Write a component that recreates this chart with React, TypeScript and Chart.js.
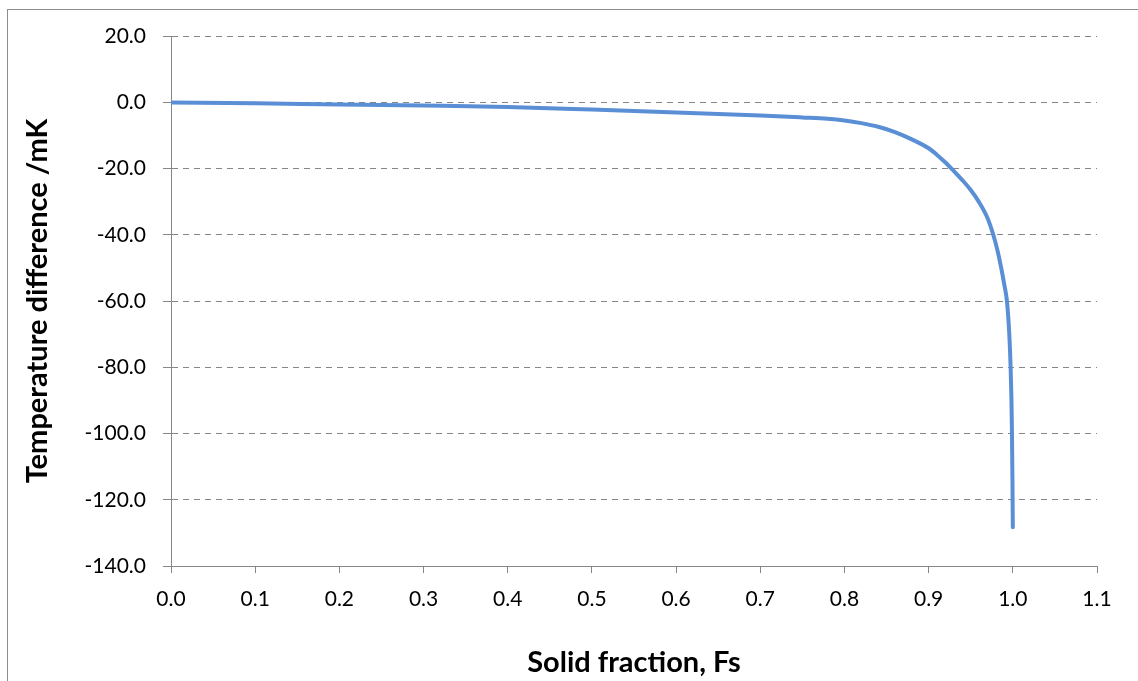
import React, { useEffect, useRef } from "react";
import { Chart, registerables } from "chart.js";

Chart.register(...registerables);

// Solid fraction (x) and temperature difference in mK (y)
const solidFraction = [
  0, 0.1, 0.2, 0.3, 0.4, 0.5, 0.6, 0.7, 0.75, 0.78, 0.8, 0.82, 0.84, 0.86,
  0.88, 0.9, 0.91, 0.92, 0.93, 0.94, 0.95, 0.9595, 0.97, 0.9768, 0.982,
  0.9862, 0.9898, 0.993, 0.9958, 0.9974, 0.9984, 0.999, 0.9996, 1.0,
];
const tempDifference = [
  -0.1, -0.3, -0.7, -1.0, -1.4, -2.2, -3.1, -4.0, -4.6, -5.0, -5.5, -6.3, -7.4,
  -9.0, -11.2, -13.9, -15.9, -18.2, -20.8, -23.5, -26.5, -30.0, -35.0, -40.0,
  -45.0, -50.0, -55.0, -60.0, -70.0, -80.0, -90.0, -100.0, -115.0, -128.3,
];

const xAxisTitle = "Solid fraction, Fs";
const yAxisTitle = "Temperature difference /mK";
const xRange = [0, 1.1];
const yRange = [-140, 20];
const xStep = 0.1;
const yStep = 20;

const GRID = "#868686";
const FONT = "Lato, 'Open Sans', sans-serif";

export default function App() {
  const canvasRef = useRef<HTMLCanvasElement | null>(null);

  useEffect(() => {
    let chart: Chart | null = null;
    let cancelled = false;

    const build = () => {
      if (cancelled || !canvasRef.current) return;
      const points = solidFraction.map((x, i) => ({ x, y: tempDifference[i] }));
      chart = new Chart(canvasRef.current, {
        type: "scatter",
        data: {
          datasets: [
            {
              data: points,
              showLine: true,
              borderColor: "#5A8FD6",
              backgroundColor: "#5A8FD6",
              borderWidth: 4,
              pointRadius: 0,
              pointHoverRadius: 0,
              cubicInterpolationMode: "monotone",
              borderCapStyle: "round",
              borderJoinStyle: "round",
            },
          ],
        },
        options: {
          responsive: false,
          animation: false,
          events: [],
          layout: { padding: { left: 0, top: 36, right: 41, bottom: 0 } },
          plugins: {
            legend: { display: false },
            tooltip: { enabled: false },
          },
          scales: {
            x: {
              type: "linear",
              min: xRange[0],
              max: xRange[1],
              afterFit: (s: any) => {
                s.height = 115;
              },
              ticks: {
                stepSize: xStep,
                padding: 14,
                color: "#000",
                font: { family: FONT, size: 21 },
                callback: (v: any) => Number(v).toFixed(1),
                maxRotation: 0,
                autoSkip: false,
              },
              grid: {
                drawOnChartArea: false,
                drawTicks: true,
                tickLength: 7,
                color: GRID,
                tickColor: GRID,
              },
              border: { display: true, color: GRID, width: 1 },
              title: {
                display: true,
                text: xAxisTitle,
                color: "#000",
                font: { family: FONT, size: 29, weight: "bold" },
                padding: { top: 0, bottom: 1 },
              },
            },
            y: {
              type: "linear",
              min: yRange[0],
              max: yRange[1],
              afterFit: (s: any) => {
                s.width = 171;
              },
              ticks: {
                stepSize: yStep,
                padding: 17,
                color: "#000",
                font: { family: FONT, size: 21 },
                callback: (v: any) => Number(v).toFixed(1),
              },
              grid: {
                drawOnChartArea: true,
                drawTicks: true,
                tickLength: 8,
                color: GRID,
                tickColor: GRID,
                tickBorderDash: [],
              },
              border: { display: true, color: GRID, width: 1, dash: [6, 5] },
              title: {
                display: true,
                text: yAxisTitle,
                color: "#000",
                font: { family: FONT, size: 29, weight: "bold" },
                padding: { top: 20, bottom: 0 },
              },
            },
          },
        },
      });
    };

    const fonts = (document as any).fonts;
    if (fonts && fonts.load) {
      Promise.all([
        fonts.load("21px Lato"),
        fonts.load("bold 29px Lato"),
      ])
        .catch(() => null)
        .then(build);
    } else {
      build();
    }

    return () => {
      cancelled = true;
      if (chart) chart.destroy();
    };
  }, []);

  return (
    <div
      style={{
        position: "fixed",
        left: 0,
        top: 0,
        width: 1138,
        height: 681,
        overflow: "hidden",
        background: "#fff",
      }}
    >
      <div
        style={{
          position: "absolute",
          left: 7,
          top: 9,
          width: 1300,
          height: 900,
          border: "1px solid #8c8c8c",
          boxSizing: "border-box",
        }}
      />
      <canvas
        ref={canvasRef}
        width={1138}
        height={681}
        style={{ position: "absolute", left: 0, top: 0, width: 1138, height: 681 }}
      />
    </div>
  );
}
